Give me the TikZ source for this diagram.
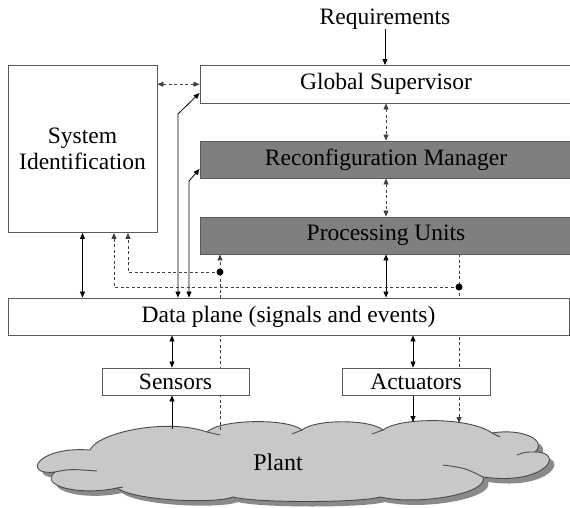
\documentclass[tikz,border=0pt]{standalone}
\usepackage{fontspec}
\setmainfont{Liberation Serif}
\newfontfamily\tnr{Liberation Serif}
\usetikzlibrary{arrows.meta}
\definecolor{boxc}{HTML}{5A5A5A}
\definecolor{fillg}{HTML}{7F7F7F}
\definecolor{cloudf}{HTML}{C8C8C8}
\definecolor{cloudd}{HTML}{4A4A4A}
\definecolor{shadowc}{HTML}{8A8A8A}
\definecolor{dashc}{HTML}{404040}
\pgfdeclarelayer{bg}
\pgfsetlayers{bg,main}
\newcommand\myCloudPath{%
  (55,472) .. controls (22,476) and (36,446) .. (90,450)
  .. controls (98,432) and (168,418) .. (207,432)
  .. controls (220,419) and (288,418) .. (302,430)
  .. controls (315,419) and (370,419) .. (383,430)
  .. controls (400,417) and (470,417) .. (492,433)
  .. controls (522,428) and (548,440) .. (535,452)
  .. controls (566,452) and (546,486) .. (483,477)
  .. controls (490,493) and (420,506) .. (380,497)
  .. controls (360,503) and (255,503) .. (233,497)
  .. controls (215,504) and (135,501) .. (117,488)
  .. controls (80,496) and (38,486) .. (55,472) -- cycle}
\begin{document}
\begin{tikzpicture}[x=1pt,y=-1pt,
  every node/.style={font=\tnr\fontsize{23.5}{26}\selectfont, inner sep=0pt},
  box/.style={draw=boxc, fill=white, line width=0.9pt, inner sep=0pt},
  gbox/.style={box, fill=fillg},
  tip/.tip={Triangle[length=6pt,width=5pt]},
  sline/.style={draw=black, line width=0.8pt},
  sarr/.style={sline, -tip},
  sboth/.style={sline, tip-tip},
  dsh/.style={draw=dashc, line width=0.8pt, dash pattern=on 3pt off 2.5pt},
  darr/.style={dsh, -tip},
  dboth/.style={dsh, tip-tip},
  cloudline/.style={draw=cloudd, line width=0.9pt}]
\useasboundingbox (0,0) rectangle (570,508);

% boxes
\node[box, minimum width=149pt, minimum height=167pt, align=center] (si) at (82.5,149) {System\\Identification};
\node[box, minimum width=372pt, minimum height=37.5pt] (gs) at (386,84.25) {Global Supervisor};
\node[gbox, minimum width=372pt, minimum height=37pt] (rm) at (386,159.5) {Reconfiguration Manager};
\node[gbox, minimum width=372pt, minimum height=37pt] (pu) at (386,235.5) {Processing Units};
\node[box, minimum width=561pt, minimum height=37pt] (dp) at (288.5,316.5) {Data plane (signals and events)};
\node[box, minimum width=147pt, minimum height=27pt] (sen) at (175.5,381.5) {Sensors};
\node[box, minimum width=148pt, minimum height=27pt] (act) at (416,381.5) {Actuators};
\node (req) at (385,19) {Requirements};
\node[font=\tnr\fontsize{24}{26}\selectfont] (plant) at (278,462) {Plant};

% helper coordinates
\coordinate (k1) at (178,114);
\coordinate (k2) at (189,181);
\coordinate (d1) at (220,272);
\coordinate (d2) at (459,287);
\coordinate (s1) at (128,0);
\coordinate (s2) at (114,0);
\coordinate (cs) at (172,429);
\coordinate (cd1) at (220,430);
\coordinate (ca) at (413,422);
\coordinate (cd2) at (459,423);

\begin{pgfonlayer}{bg}
  % cloud
  \fill[shadowc, shift={(5,5)}] \myCloudPath;
  \fill[cloudf] \myCloudPath;
  \draw[cloudline] \myCloudPath;
  \draw[cloudline] (55,472) .. controls (70,469) .. (97,471);
  \draw[cloudline] (207,432) -- (220,435);
  \draw[cloudline] (302,430) -- (292,434);
  \draw[cloudline] (383,430) -- (372,434);
  \draw[cloudline] (492,433) -- (500,437);
  \draw[cloudline] (535,452) .. controls (525,452) .. (517,455);
  \draw[cloudline] (483,477) .. controls (465,468) .. (443,465);
  \draw[cloudline] (117,488) -- (123,487);

  % connectors
  \draw[sarr] (req.south) -- (req.south |- gs.north);
  \draw[dboth] (si.east |- gs.west) -- (gs.west);
  \draw[dboth] (gs.south) -- (rm.north);
  \draw[dboth] (rm.south) -- (pu.north);
  \draw[sboth] (pu.south) -- (pu.south |- dp.north);
  \draw[sboth] (si.south) -- (si.south |- dp.north);
  \draw[sboth] (dp.north -| k1) -- (k1) -- ([yshift=-8.75pt]gs.west);
  \draw[sboth] (dp.north -| k2) -- (k2) -- ([yshift=-9.5pt]rm.west);
  \draw[darr] (cd1) -- (pu.south -| d1);
  \draw[darr] (d1) -| (si.south -| s1);
  \draw[darr] (pu.south -| d2) -- (cd2);
  \draw[darr] (d2) -| (si.south -| s2);
  \draw[sarr] (cs) -- (sen.south -| cs);
  \draw[sboth] (sen.north -| cs) -- (dp.south -| cs);
  \draw[sboth] (act.north -| ca) -- (dp.south -| ca);
  \draw[sarr] (act.south -| ca) -- (ca);
\end{pgfonlayer}
\fill (d1) circle (3.5pt);
\fill (d2) circle (3.5pt);
\end{tikzpicture}
\end{document}
